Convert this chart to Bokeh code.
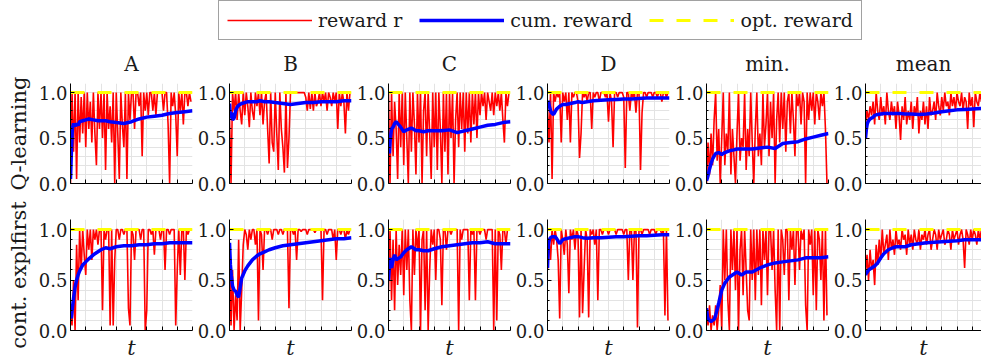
from bokeh.plotting import figure
from bokeh.layouts import column, row
from bokeh.models import Range1d, FixedTicker, Legend, LegendItem, NumeralTickFormatter
from bokeh.embed import file_html
from bokeh.resources import INLINE

# ---------------- data ----------------
panel_titles = ["A", "B", "C", "D", "min.", "mean"]
row_labels = ["Q-learning", "cont. explfirst"]
legend_labels = ["reward r", "cum. reward", "opt. reward"]

t_reward = list(range(0, 400, 5))
t_cum = [0, 3, 6, 10, 15, 20, 25, 30, 40, 50, 60, 75, 90, 100, 115, 130,
         150, 175, 200, 225, 250, 275, 300, 325, 350, 375, 400]
t_opt = [0, 400]
opt_reward = [1.0, 1.0]

x_ticks = [0, 50, 100, 150, 200, 250, 300, 350, 400]
y_ticks = [0.0, 0.5, 1.0]
y_minor = [0.1, 0.2, 0.3, 0.4, 0.6, 0.7, 0.8, 0.9]

# Q-learning, reward r
q_reward_A = [0.0, 1.0, 0.35, 1.0, 0.05, 1.0, 0.45, 0.95, 0.55, 1.0,
              0.4, 1.0, 0.6, 0.9, 0.45, 1.0, 0.55, 0.2, 1.0, 0.6,
              1.0, 0.5, 1.0, 0.15, 1.0, 0.6, 0.85, 0.45, 1.0, 0.0,
              1.0, 0.55, 0.05, 1.0, 0.65, 0.4, 1.0, 0.05, 1.0, 0.7,
              1.0, 1.0, 0.6, 1.0, 1.0, 0.85, 1.0, 0.3, 1.0, 0.8,
              1.0, 0.75, 1.0, 1.0, 0.8, 1.0, 0.75, 1.0, 1.0, 1.0,
              1.0, 0.8, 1.0, 1.0, 0.65, 0.0, 1.0, 0.85, 1.0, 0.75,
              0.3, 1.0, 0.8, 1.0, 0.65, 1.0, 1.0, 0.85, 1.0, 0.9]
q_reward_B = [0.75, 0.0, 1.0, 0.8, 1.0, 0.7, 1.0, 0.8, 0.65, 1.0,
              0.75, 1.0, 0.85, 0.62, 1.0, 0.8, 0.7, 1.0, 0.85, 1.0,
              0.75, 1.0, 0.65, 0.9, 1.0, 0.6, 0.22, 1.0, 0.45, 0.35,
              1.0, 0.55, 0.15, 1.0, 0.6, 0.4, 0.12, 1.0, 0.17, 0.5,
              1.0, 1.0, 1.0, 1.0, 1.0, 1.0, 1.0, 1.0, 1.0, 1.0,
              0.95, 0.8, 1.0, 0.82, 1.0, 0.8, 1.0, 0.85, 0.9, 1.0,
              0.85, 1.0, 0.9, 1.0, 0.8, 1.0, 0.95, 0.85, 1.0, 0.9,
              1.0, 0.6, 1.0, 0.85, 1.0, 0.9, 0.55, 1.0, 0.8, 1.0]
q_reward_C = [1.0, 0.0, 1.0, 0.3, 0.9, 0.6, 0.05, 1.0, 0.4, 1.0,
              0.2, 1.0, 0.5, 0.0, 1.0, 0.35, 1.0, 0.65, 0.1, 1.0,
              0.45, 1.0, 0.0, 0.8, 1.0, 0.3, 1.0, 0.55, 0.05, 1.0,
              0.4, 1.0, 0.15, 1.0, 0.6, 0.0, 1.0, 0.35, 1.0, 0.1,
              1.0, 0.5, 1.0, 0.0, 0.7, 1.0, 0.4, 1.0, 0.6, 1.0,
              0.35, 1.0, 0.55, 1.0, 0.45, 1.0, 0.65, 1.0, 0.5, 1.0,
              0.75, 1.0, 0.85, 1.0, 0.7, 1.0, 0.9, 0.8, 1.0, 0.75,
              1.0, 0.85, 1.0, 0.8, 1.0, 0.7, 0.45, 1.0, 0.85, 1.0]
q_reward_D = [0.85, 0.45, 1.0, 0.05, 1.0, 0.9, 1.0, 0.95, 1.0, 0.45,
              1.0, 0.9, 1.0, 0.7, 1.0, 0.45, 1.0, 0.95, 1.0, 1.0,
              0.9, 0.28, 0.55, 1.0, 0.95, 1.0, 0.9, 1.0, 1.0, 0.6,
              1.0, 0.95, 1.0, 1.0, 0.9, 1.0, 1.0, 1.0, 0.95, 1.0,
              0.68, 1.0, 0.9, 0.4, 1.0, 1.0, 0.95, 1.0, 1.0, 1.0,
              0.95, 0.17, 1.0, 1.0, 0.8, 1.0, 0.95, 1.0, 0.78, 1.0,
              1.0, 0.15, 0.78, 1.0, 1.0, 0.95, 1.0, 1.0, 1.0, 0.95,
              1.0, 1.0, 0.95, 1.0, 1.0, 0.9, 1.0, 1.0, 0.95, 1.0]
q_reward_min = [0.0, 0.45, 0.1, 0.55, 0.2, 0.7, 1.0, 0.25, 0.6, 0.0,
                0.5, 1.0, 0.2, 0.55, 0.35, 1.0, 0.1, 0.6, 0.3, 0.0,
                0.55, 1.0, 0.25, 0.5, 0.4, 1.0, 0.15, 0.6, 0.3, 1.0,
                0.45, 0.0, 0.6, 1.0, 0.3, 0.55, 0.2, 1.0, 0.4, 0.65,
                1.0, 0.3, 0.9, 0.5, 1.0, 0.0, 0.7, 1.0, 0.45, 1.0,
                0.6, 1.0, 0.35, 0.9, 1.0, 0.55, 1.0, 0.7, 0.3, 1.0,
                0.85, 1.0, 0.65, 1.0, 0.9, 0.0, 1.0, 0.7, 1.0, 0.8,
                1.0, 0.65, 1.0, 0.9, 0.7, 1.0, 0.85, 1.0, 0.6, 0.0]
q_reward_mean = [0.65, 0.8, 0.7, 0.85, 0.75, 0.9, 0.65, 1.0, 0.8, 0.7,
                 0.95, 0.75, 0.85, 0.65, 1.0, 0.8, 0.7, 0.9, 0.75, 0.85,
                 0.6, 0.9, 0.75, 0.48, 0.85, 0.7, 0.95, 0.65, 0.8, 0.7,
                 0.9, 0.6, 0.85, 0.75, 0.95, 0.55, 0.8, 0.7, 0.9, 0.65,
                 0.85, 0.6, 0.95, 0.75, 0.8, 0.9, 0.7, 1.0, 0.85, 0.75,
                 0.95, 0.8, 1.0, 0.85, 0.9, 0.75, 1.0, 0.85, 0.95, 0.8,
                 1.0, 0.9, 0.85, 1.0, 0.8, 0.95, 0.9, 0.6, 1.0, 0.85,
                 0.95, 0.62, 1.0, 0.9, 0.85, 1.0, 0.9, 0.95, 0.85, 1.0]

# Q-learning, cum. reward
q_cum_A = [0.05, 0.35, 0.6, 0.66, 0.63, 0.66, 0.64, 0.68, 0.69, 0.70, 0.71, 0.70, 0.69, 0.69,
           0.69, 0.68, 0.67, 0.66, 0.68, 0.71, 0.73, 0.74, 0.75, 0.77, 0.78, 0.79, 0.80]
q_cum_B = [0.88, 0.72, 0.78, 0.70, 0.72, 0.80, 0.84, 0.86, 0.88, 0.89, 0.90, 0.90, 0.90, 0.91,
           0.90, 0.90, 0.89, 0.88, 0.87, 0.88, 0.89, 0.89, 0.90, 0.90, 0.90, 0.91, 0.91]
q_cum_C = [0.45, 0.33, 0.50, 0.60, 0.62, 0.66, 0.68, 0.66, 0.62, 0.57, 0.59, 0.61, 0.58, 0.58,
           0.57, 0.58, 0.58, 0.58, 0.59, 0.56, 0.58, 0.60, 0.62, 0.64, 0.65, 0.67, 0.68]
q_cum_D = [0.83, 0.91, 0.85, 0.80, 0.77, 0.76, 0.79, 0.82, 0.85, 0.87, 0.87, 0.88, 0.89, 0.90,
           0.89, 0.90, 0.91, 0.915, 0.92, 0.925, 0.93, 0.93, 0.935, 0.94, 0.94, 0.94, 0.94]
q_cum_min = [0.03, 0.06, 0.10, 0.16, 0.22, 0.27, 0.30, 0.33, 0.34, 0.32, 0.34, 0.36, 0.37, 0.38,
             0.38, 0.38, 0.38, 0.39, 0.40, 0.385, 0.44, 0.45, 0.46, 0.49, 0.51, 0.53, 0.55]
q_cum_mean = [0.50, 0.60, 0.66, 0.69, 0.71, 0.72, 0.73, 0.75, 0.76, 0.765, 0.77, 0.77, 0.77, 0.77,
              0.77, 0.765, 0.765, 0.76, 0.765, 0.775, 0.79, 0.80, 0.81, 0.815, 0.82, 0.825, 0.83]

# cont. explfirst, reward r
e_reward_A = [0.2, 0.05, 0.5, 0.0, 0.85, 0.3, 1.0, 0.6, 1.0, 0.75,
              0.55, 1.0, 0.8, 1.0, 0.7, 1.0, 0.9, 1.0, 0.85, 1.0,
              1.0, 0.2, 1.0, 0.9, 1.0, 1.0, 0.05, 1.0, 0.05, 0.7,
              1.0, 1.0, 0.9, 1.0, 1.0, 0.95, 1.0, 1.0, 0.22, 0.05,
              1.0, 0.95, 0.7, 1.0, 1.0, 1.0, 0.9, 1.0, 1.0, 0.0,
              0.2, 1.0, 1.0, 0.95, 1.0, 0.75, 1.0, 1.0, 1.0, 0.9,
              1.0, 1.0, 0.6, 1.0, 1.0, 0.95, 1.0, 1.0, 1.0, 0.05,
              0.6, 1.0, 0.55, 1.0, 1.0, 0.5, 1.0, 0.95, 1.0, 1.0]
e_reward_B = [0.8, 0.05, 0.6, 0.0, 0.35, 0.1, 0.9, 0.0, 0.4, 0.85,
              1.0, 0.95, 0.8, 1.0, 0.9, 1.0, 1.0, 0.85, 1.0, 0.1,
              1.0, 0.95, 0.6, 1.0, 1.0, 0.95, 1.0, 1.0, 0.9, 1.0,
              1.0, 1.0, 0.95, 1.0, 1.0, 0.95, 1.0, 1.0, 1.0, 0.22,
              1.0, 1.0, 0.95, 1.0, 0.7, 1.0, 1.0, 0.98, 1.0, 1.0,
              1.0, 0.95, 1.0, 1.0, 1.0, 1.0, 0.97, 1.0, 1.0, 1.0,
              1.0, 0.3, 1.0, 1.0, 0.95, 1.0, 1.0, 1.0, 0.9, 1.0,
              0.7, 1.0, 1.0, 0.95, 1.0, 1.0, 0.9, 1.0, 0.95, 1.0]
e_reward_C = [0.4, 1.0, 0.3, 0.9, 0.2, 1.0, 0.45, 0.85, 0.55, 1.0,
              0.35, 1.0, 0.6, 1.0, 0.3, 0.0, 1.0, 0.55, 1.0, 0.8,
              1.0, 0.0, 0.9, 1.0, 0.2, 1.0, 0.0, 0.6, 1.0, 0.85,
              1.0, 0.5, 1.0, 1.0, 0.9, 0.25, 1.0, 1.0, 0.8, 1.0,
              1.0, 0.95, 1.0, 1.0, 1.0, 1.0, 0.0, 1.0, 0.9, 1.0,
              1.0, 1.0, 1.0, 0.3, 1.0, 0.95, 1.0, 0.3, 1.0, 1.0,
              0.95, 1.0, 1.0, 1.0, 0.9, 1.0, 1.0, 1.0, 1.0, 0.0,
              1.0, 0.1, 1.0, 0.95, 0.6, 1.0, 1.0, 0.85, 1.0, 1.0]
e_reward_D = [0.6, 0.9, 0.7, 1.0, 0.85, 1.0, 0.9, 0.7, 0.12, 1.0,
              0.9, 0.75, 1.0, 0.85, 0.37, 1.0, 0.9, 1.0, 0.8, 1.0,
              0.95, 0.13, 1.0, 0.17, 0.6, 1.0, 0.9, 0.13, 1.0, 0.95,
              1.0, 0.85, 1.0, 0.3, 1.0, 1.0, 0.95, 1.0, 1.0, 1.0,
              0.95, 1.0, 1.0, 1.0, 1.0, 0.95, 1.0, 1.0, 1.0, 1.0,
              0.95, 1.0, 1.0, 0.5, 1.0, 1.0, 0.5, 1.0, 1.0, 0.03,
              1.0, 1.0, 0.95, 1.0, 1.0, 1.0, 1.0, 0.95, 1.0, 1.0,
              1.0, 0.95, 1.0, 1.0, 1.0, 0.95, 1.0, 0.15, 1.0, 0.1]
e_reward_min = [0.2, 0.05, 0.25, 0.0, 0.15, 0.05, 0.25, 0.0, 0.2, 0.45,
                0.0, 1.0, 0.5, 1.0, 0.3, 0.0, 1.0, 0.6, 1.0, 0.4,
                1.0, 0.0, 0.8, 1.0, 0.35, 1.0, 0.6, 0.2, 0.1, 1.0,
                0.5, 1.0, 0.3, 1.0, 0.55, 1.0, 0.25, 1.0, 0.7, 1.0,
                0.35, 1.0, 1.0, 0.6, 1.0, 0.4, 0.0, 1.0, 0.0, 1.0,
                0.9, 0.55, 1.0, 1.0, 0.3, 1.0, 0.8, 1.0, 0.45, 1.0,
                1.0, 0.6, 1.0, 0.9, 1.0, 0.25, 0.0, 1.0, 0.85, 1.0,
                0.35, 1.0, 0.2, 1.0, 0.9, 0.5, 1.0, 0.1, 1.0, 0.15]
e_reward_mean = [0.55, 0.75, 0.5, 0.8, 0.6, 0.7, 0.45, 0.85, 0.65, 0.9,
                 0.7, 1.0, 0.75, 0.85, 0.95, 0.7, 1.0, 0.8, 0.9, 0.75,
                 1.0, 0.85, 0.9, 0.8, 1.0, 0.9, 0.95, 0.75, 1.0, 0.85,
                 0.95, 0.8, 1.0, 0.9, 0.85, 1.0, 0.8, 0.95, 0.9, 1.0,
                 0.85, 0.95, 1.0, 0.8, 0.9, 1.0, 0.95, 0.8, 1.0, 0.9,
                 0.95, 1.0, 0.85, 0.9, 1.0, 0.95, 0.8, 1.0, 0.9, 0.95,
                 1.0, 0.85, 0.95, 1.0, 0.9, 0.62, 1.0, 0.95, 0.85, 1.0,
                 0.9, 1.0, 0.95, 0.85, 1.0, 0.9, 1.0, 0.95, 1.0, 0.9]

# cont. explfirst, cum. reward
e_cum_A = [0.15, 0.12, 0.22, 0.32, 0.43, 0.50, 0.55, 0.59, 0.65, 0.68, 0.71, 0.75, 0.78, 0.80,
           0.82, 0.81, 0.83, 0.84, 0.84, 0.85, 0.85, 0.86, 0.86, 0.87, 0.87, 0.87, 0.87]
e_cum_B = [0.87, 0.65, 0.54, 0.44, 0.40, 0.39, 0.35, 0.33, 0.52, 0.59, 0.64, 0.70, 0.74, 0.76,
           0.78, 0.80, 0.82, 0.84, 0.85, 0.86, 0.87, 0.88, 0.89, 0.90, 0.91, 0.91, 0.92]
e_cum_C = [0.50, 0.62, 0.72, 0.62, 0.70, 0.75, 0.70, 0.71, 0.73, 0.77, 0.80, 0.83, 0.80, 0.80,
           0.79, 0.79, 0.81, 0.83, 0.84, 0.85, 0.86, 0.87, 0.87, 0.88, 0.86, 0.86, 0.86]
e_cum_D = [0.62, 0.85, 0.90, 0.92, 0.93, 0.93, 0.93, 0.91, 0.86, 0.90, 0.91, 0.92, 0.93, 0.93,
           0.92, 0.915, 0.92, 0.92, 0.925, 0.93, 0.93, 0.935, 0.94, 0.94, 0.945, 0.95, 0.95]
e_cum_min = [0.22, 0.14, 0.11, 0.10, 0.09, 0.10, 0.11, 0.15, 0.27, 0.40, 0.47, 0.53, 0.56, 0.58,
             0.55, 0.58, 0.58, 0.62, 0.65, 0.67, 0.68, 0.69, 0.70, 0.72, 0.72, 0.72, 0.73]
e_cum_mean = [0.55, 0.57, 0.58, 0.60, 0.61, 0.62, 0.63, 0.64, 0.67, 0.72, 0.76, 0.80, 0.82, 0.83,
              0.83, 0.83, 0.85, 0.86, 0.87, 0.875, 0.88, 0.885, 0.89, 0.90, 0.90, 0.90, 0.90]

reward_rows = [
    [q_reward_A, q_reward_B, q_reward_C, q_reward_D, q_reward_min, q_reward_mean],
    [e_reward_A, e_reward_B, e_reward_C, e_reward_D, e_reward_min, e_reward_mean],
]
cum_rows = [
    [q_cum_A, q_cum_B, q_cum_C, q_cum_D, q_cum_min, q_cum_mean],
    [e_cum_A, e_cum_B, e_cum_C, e_cum_D, e_cum_min, e_cum_mean],
]

# ---------------- style ----------------
FONT = "DejaVu Serif"
RED = "#ff0000"
BLUE = "#0000ff"
YELLOW = "#ffff00"
GRID = "#e3e3e3"
TXT = "#1a1a1a"
FRAME_W = 122


def make_panel(r, c):
    first = c == 0
    last = c == 5
    left = 70 if first else 35
    fw = 116 if last else FRAME_W
    right = 0 if last else 2
    if r == 0:
        top, fh, bottom = 40, 101, 18
    else:
        top, fh, bottom = 18, 113, 30
    x_end = 400.0 * fw / FRAME_W
    p = figure(width=left + fw + right, height=top + fh + bottom,
               x_range=Range1d(0, x_end), y_range=Range1d(0, 1.1),
               output_backend="svg", toolbar_location=None,
               min_border_left=left, min_border_right=right,
               min_border_top=top, min_border_bottom=bottom)
    p.outline_line_color = None
    p.background_fill_color = "white"

    if r == 0:
        p.title.text = panel_titles[c]
        p.title.align = "center"
        p.title.text_font = FONT
        p.title.text_font_size = "20px"
        p.title.text_font_style = "normal"
        p.title.text_color = TXT
        p.title.standoff = 15

    xa = p.xaxis[0]
    xa.ticker = FixedTicker(ticks=[], minor_ticks=x_ticks)
    xa.major_tick_in = 0
    xa.major_tick_out = 0
    xa.minor_tick_in = 4
    xa.minor_tick_out = 0
    xa.axis_line_color = "black"
    xa.minor_tick_line_color = "black"
    if r == 1:
        xa.axis_label = "t"
        xa.axis_label_text_font = FONT
        xa.axis_label_text_font_size = "21px"
        xa.axis_label_text_font_style = "italic"
        xa.axis_label_text_color = TXT
        xa.axis_label_standoff = 5

    ya = p.yaxis[0]
    ya.ticker = FixedTicker(ticks=y_ticks, minor_ticks=y_minor)
    ya.formatter = NumeralTickFormatter(format="0.0")
    ya.major_label_text_font = FONT
    ya.major_label_text_font_size = "18px"
    ya.major_label_text_color = TXT
    ya.major_label_standoff = 3
    ya.major_tick_in = 4
    ya.major_tick_out = 0
    ya.minor_tick_in = 2
    ya.minor_tick_out = 0
    ya.axis_line_color = "black"
    ya.major_tick_line_color = "black"
    ya.minor_tick_line_color = "black"
    if first:
        ya.axis_label = row_labels[r]
        ya.axis_label_text_font = FONT
        ya.axis_label_text_font_size = "21px"
        ya.axis_label_text_font_style = "normal"
        ya.axis_label_text_color = TXT
        ya.axis_label_standoff = 5

    p.xgrid.grid_line_color = None
    p.xgrid.minor_grid_line_color = GRID
    p.ygrid.grid_line_color = GRID
    p.ygrid.minor_grid_line_color = GRID

    p.line(t_reward, reward_rows[r][c], line_color=RED, line_width=1.6)
    p.line(t_opt, opt_reward, line_color=YELLOW, line_width=3, line_dash="14 13")
    p.line(t_cum, cum_rows[r][c], line_color=BLUE, line_width=3.5)
    return p


# legend strip (proxy lines lie outside the visible y range)
leg = figure(width=981, height=42, x_range=Range1d(0, 1), y_range=Range1d(5, 6),
             x_axis_type=None, y_axis_type=None,
             output_backend="svg", toolbar_location=None, min_border=0)
leg.grid.visible = False
leg.outline_line_color = None
lr1 = leg.line(t_opt, opt_reward, line_color=RED, line_width=1.5)
lr2 = leg.line(t_opt, opt_reward, line_color=BLUE, line_width=3.5)
lr3 = leg.line(t_opt, opt_reward, line_color=YELLOW, line_width=3, line_dash="14 13")
legend = Legend(items=[LegendItem(label=legend_labels[0], renderers=[lr1]),
                       LegendItem(label=legend_labels[1], renderers=[lr2]),
                       LegendItem(label=legend_labels[2], renderers=[lr3])],
                location=(218, 2), orientation="horizontal",
                glyph_width=85, glyph_height=20, label_standoff=6, spacing=17,
                padding=8, margin=0, label_height=20,
                label_text_font=FONT, label_text_font_size="19px", label_text_color=TXT,
                border_line_color="#444444", border_line_width=1,
                background_fill_color="white", background_fill_alpha=1.0)
leg.add_layout(legend)

rows = []
for r in range(2):
    rows.append(row(*[make_panel(r, c) for c in range(6)]))

layout = column(leg, rows[0], rows[1])

open("out.html", "w").write(file_html(layout, INLINE))
